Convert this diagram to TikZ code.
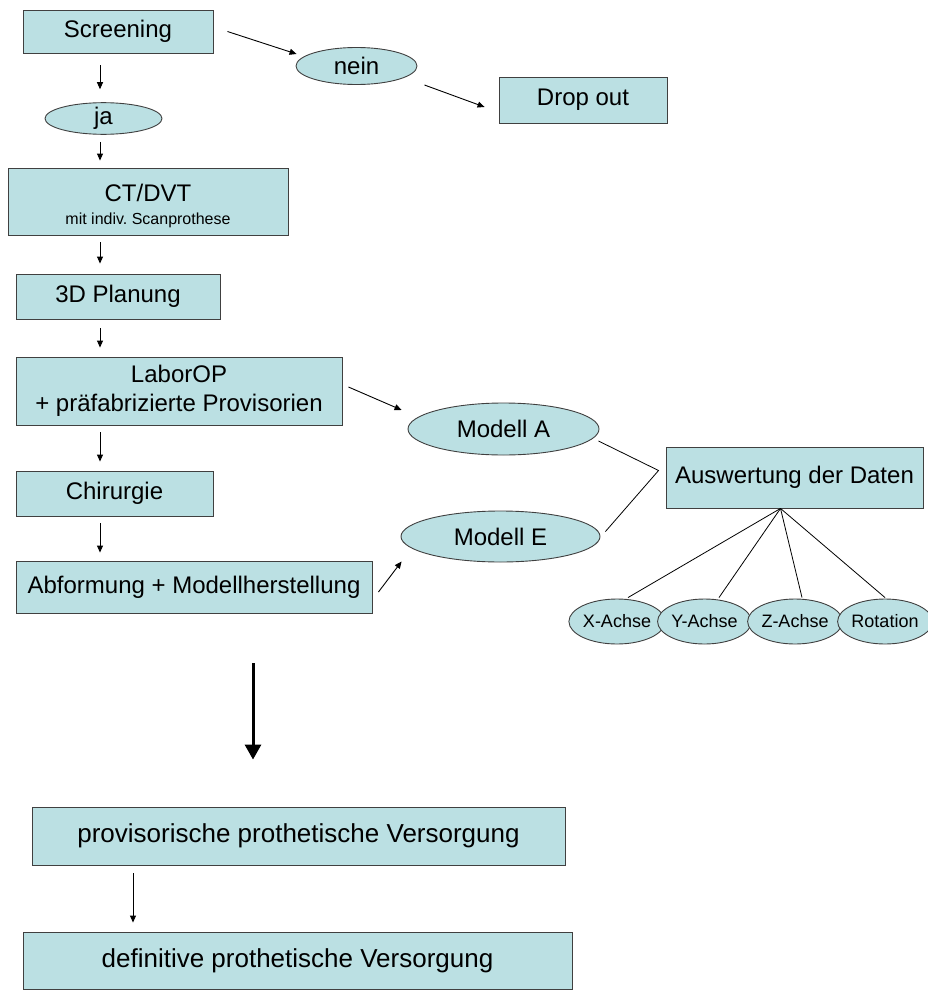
\documentclass[tikz,border=0pt]{standalone}
\usepackage{fontspec}
\setmainfont{Liberation Sans}
\usetikzlibrary{shapes.geometric,arrows.meta}
\definecolor{boxfill}{HTML}{BBE0E3}
\definecolor{boxline}{HTML}{404040}
\frenchspacing
\tikzset{
  box/.style={draw=boxline, fill=boxfill, line width=0.9pt, inner sep=0pt, align=center,
    font=\fontsize{24}{28.8}\selectfont},
  bigbox/.style={box, font=\fontsize{26}{31}\selectfont},
  oval/.style={ellipse, draw=boxline, fill=boxfill, line width=0.9pt, inner sep=0pt,
    font=\fontsize{24}{28.8}\selectfont},
  smalloval/.style={oval, font=\fontsize{18}{21}\selectfont},
  arr/.style={-{Triangle[length=7pt,width=6pt]}, line width=0.9pt},
  thinline/.style={line width=0.8pt},
  bigarr/.style={-{Triangle[length=15pt,width=16pt]}, line width=3pt}
}
\begin{document}
\begin{tikzpicture}[x=1pt,y=-1pt]
\useasboundingbox (0,0) rectangle (927,990);
% nodes
\node[box, minimum width=190pt, minimum height=43pt] (scr) at (118,31.5) {Screening};
\node[oval, minimum width=121pt, minimum height=37pt] (nein) at (356.5,66) {nein};
\node[box, minimum width=168pt, minimum height=46pt] (drop) at (583,100) {Drop out};
\node[oval, minimum width=117pt, minimum height=30pt] (ja) at (103.5,118.5) {ja};
\node[box, minimum width=280pt, minimum height=67pt] (ct) at (148,201.5)
  {\raisebox{-12pt}[0pt][0pt]{\begin{tabular}{@{}c@{}}CT/DVT\\[-6pt]{\fontsize{16}{19}\selectfont mit indiv. Scanprothese}\end{tabular}}};
\node[box, minimum width=204pt, minimum height=45pt] (plan) at (118,296.5) {3D Planung};
\node[box, minimum width=326pt, minimum height=68pt] (labor) at (179,391)
  {LaborOP\\+ präfabrizierte Provisorien};
\node[box, minimum width=197pt, minimum height=45pt] (chir) at (114.5,493.5) {Chirurgie};
\node[box, minimum width=356pt, minimum height=52pt] (abf) at (194,587) {Abformung + Modellherstellung};
\node[oval, minimum width=191pt, minimum height=52pt] (modA) at (503.5,429) {Modell A};
\node[oval, minimum width=199pt, minimum height=51pt] (modE) at (500.5,536.5) {Modell E};
\node[box, minimum width=257pt, minimum height=61pt] (ausw) at (794.5,477.5) {Auswertung der Daten};
\node[smalloval, minimum width=84pt, minimum height=45pt] (xa) at (617,621.5) {X-Achse};
\node[smalloval, minimum width=77pt, minimum height=45pt] (ya) at (704.5,621.5) {Y-Achse};
\node[smalloval, minimum width=76pt, minimum height=45pt] (za) at (795,621.5) {Z-Achse};
\node[smalloval, minimum width=76pt, minimum height=45pt] (rot) at (885,621.5) {Rotation};
\node[bigbox, minimum width=533pt, minimum height=58pt] (prov) at (298.5,836) {provisorische prothetische Versorgung};
\node[bigbox, minimum width=549pt, minimum height=57pt] (defi) at (297.5,960.5) {definitive prothetische Versorgung};
% helper columns
\coordinate (cx) at (100,0);
\coordinate (bx) at (253,0);
\coordinate (px) at (133,0);
% vertical arrows
\draw[arr, shorten <=12pt, shorten >=13pt] (scr.south -| cx) -- (ja.north -| cx);
\draw[arr, shorten <=7pt, shorten >=7pt] (ja.south -| cx) -- (ct.north -| cx);
\draw[arr, shorten <=7pt, shorten >=10pt] (ct.south -| cx) -- (plan.north -| cx);
\draw[arr, shorten <=9pt, shorten >=9pt] (plan.south -| cx) -- (labor.north -| cx);
\draw[arr, shorten <=7pt, shorten >=9pt] (labor.south -| cx) -- (chir.north -| cx);
\draw[arr, shorten <=7pt, shorten >=8pt] (chir.south -| cx) -- (abf.north -| cx);
\draw[bigarr, shorten <=50pt, shorten >=47pt] (abf.south -| bx) -- (prov.north -| bx);
\draw[arr, shorten <=8pt, shorten >=9pt] (prov.south -| px) -- (defi.north -| px);
% diagonal arrows
\draw[arr] ([xshift=14pt]scr.east) -- ([xshift=1pt,yshift=12pt]nein.west);
\draw[arr] ([xshift=7pt,yshift=-19pt]nein.east) -- ([xshift=-14pt,yshift=-7pt]drop.west);
\draw[arr] ([xshift=6pt,yshift=4pt]labor.east) -- ([xshift=-6pt,yshift=19pt]modA.west);
\draw[arr] ([xshift=6pt,yshift=-5pt]abf.east) -- ([xshift=1pt,yshift=-25pt]modE.west);
% connection lines
\coordinate (vx) at ([xshift=-7pt,yshift=7pt]ausw.west);
\coordinate (hub) at ([xshift=-14pt]ausw.south);
\draw[thinline] ([xshift=-1pt,yshift=-12pt]modA.east) -- (vx) -- ([xshift=5pt,yshift=5pt]modE.east);
\draw[thinline] (hub) -- ([xshift=11pt,yshift=1pt]xa.north);
\draw[thinline] (hub) -- ([xshift=14.5pt,yshift=1pt]ya.north);
\draw[thinline] (hub) -- ([xshift=7pt,yshift=1pt]za.north);
\draw[thinline] (hub) -- ([yshift=1pt]rot.north);
\end{tikzpicture}
\end{document}
